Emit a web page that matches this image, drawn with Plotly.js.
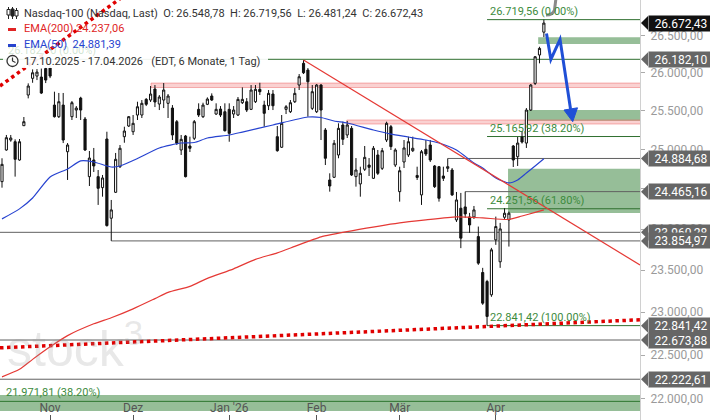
<!DOCTYPE html>
<html><head><meta charset="utf-8">
<script src="https://cdn.plot.ly/plotly-3.0.1.min.js"></script>
<style>html,body{margin:0;padding:0;background:#fff}#chart{width:710px;height:420px}</style>
</head><body><div id="chart"></div>
<script>
// ---- trading days (category axis) ----
const dates = [
"2025-10-17","2025-10-20","2025-10-21","2025-10-22","2025-10-23","2025-10-24","2025-10-27","2025-10-28","2025-10-29","2025-10-30","2025-10-31",
"2025-11-03","2025-11-04","2025-11-05","2025-11-06","2025-11-07","2025-11-10","2025-11-11","2025-11-12","2025-11-13","2025-11-14",
"2025-11-17","2025-11-18","2025-11-19","2025-11-20","2025-11-21","2025-11-24","2025-11-25","2025-11-26","2025-11-28",
"2025-12-01","2025-12-02","2025-12-03","2025-12-04","2025-12-05","2025-12-08","2025-12-09","2025-12-10","2025-12-11","2025-12-12",
"2025-12-15","2025-12-16","2025-12-17","2025-12-18","2025-12-19","2025-12-22","2025-12-23","2025-12-24","2025-12-26","2025-12-29","2025-12-30","2025-12-31",
"2026-01-02","2026-01-05","2026-01-06","2026-01-07","2026-01-08","2026-01-09","2026-01-12","2026-01-13","2026-01-14","2026-01-15","2026-01-16",
"2026-01-20","2026-01-21","2026-01-22","2026-01-23","2026-01-26","2026-01-27","2026-01-28","2026-01-29","2026-01-30",
"2026-02-02","2026-02-03","2026-02-04","2026-02-05","2026-02-06","2026-02-09","2026-02-10","2026-02-11","2026-02-12","2026-02-13",
"2026-02-17","2026-02-18","2026-02-19","2026-02-20","2026-02-23","2026-02-24","2026-02-25","2026-02-26","2026-02-27",
"2026-03-02","2026-03-03","2026-03-04","2026-03-05","2026-03-06","2026-03-09","2026-03-10","2026-03-11","2026-03-12","2026-03-13",
"2026-03-16","2026-03-17","2026-03-18","2026-03-19","2026-03-20","2026-03-23","2026-03-24","2026-03-25","2026-03-26","2026-03-27",
"2026-03-30","2026-03-31","2026-04-01","2026-04-02","2026-04-06","2026-04-07","2026-04-08","2026-04-09","2026-04-10",
"2026-04-13","2026-04-14","2026-04-15","2026-04-16","2026-04-17"];

const open = [24591,24993,25121,25099,24865,25306,25707,25928,25958,25945,
26058,26065,25575,25423,25575,24971,25423,25510,25667,25393,
24654,24865,24654,24515,25134,24134,24457,24780,25164,25302,
25228,25445,25445,25650,25641,25786,25589,25641,25598,25536,
25358,24993,25173,25044,25143,25519,25423,25585,25694,25458,
25523,25488,25519,25458,25445,25606,25619,25519,25619,25782,
25575,25566,25720,25164,25028,25519,25488,25619,25839,26128,
26038,25532,25488,25839,25250,24612,24646,24929,25315,25186,
25272,24654,24562,24747,24801,24633,24929,24759,25121,25293,
24801,24465,24840,24929,24984,24669,24424,25002,25057,24789,
24780,24662,24759,24738,24113,24258,24274,24150,24150,23908,
23472,23364,23205,23868,23601,24146,24113,25044,24907,25160,
25082,25510,25861,26240,26548.78];
const high = [24887,25186,25186,25130,25134,25419,25861,26047,26051,26058,
26085,26091,25751,25734,25734,25082,25628,25562,25684,25419,
24980,25019,24738,24675,25228,24361,24955,25057,25293,25432,
25445,25619,25641,25667,25826,25839,25707,25865,25720,25575,
25380,25186,25186,25164,25380,25598,25606,25676,25729,25598,
25562,25598,25598,25562,25681,25808,25667,25839,25839,25869,
25632,25773,25773,25302,25445,25575,25641,25799,25985,26172,
26065,25839,25852,25852,25276,24696,25121,25337,25358,25367,
25302,24890,24780,25044,24890,25044,24993,25019,25358,25315,
25015,24780,25121,25164,25164,24780,24993,25121,25121,24801,
24789,24780,24884.68,24763,24461,24449,24465.16,24200,24286,24031,
23528,23384,23770,24154,24076,24258,24216,25057,25160,25237,
25536,25852,26226,26351,26719.56];
const low = [24515,24984,25099,24654,24856,25302,25663,25869,25905,25720,
25865,25931,25412,25406,25082,24612,25380,25406,25380,24980,
24536,24713,24299,24402,24031,23854.97,24448,24763,25086,25289,
25186,25380,25406,25562,25615,25549,25510,25536,25406,25121,
25057,24929,24644,24967,25121,25419,25406,25575,25628,25445,
25419,25231,25099,25406,25432,25589,25484,25510,25602,25707,
25293,25510,25510,24971,25019,25458,25471,25602,25773,25985,
25423,25510,25471,25121,24801,24465,24637,24887,25057,25147,
24662,24528,24402,24726,24662,24625,24675,24738,25095,24993,
24776,24340,24763,24903,24967,24612,24299,24916,24840,24511,
24340,24599,24713,24411,24088,23767,24138,23953,24125,23564,
23086,22841.42,23181,23807,23528,24125,23786,24776,24789,25076,
25019,25497,25839,26128,26481.24];
const close = [24810,25151,25147,24874,25099,25358,25826,26002,26011,25733,
25905,25958,25423,25619,25121,25057,25606,25536,25510,24993,
24890,24789,24507,24637,24043,24237,24874,25015,25237,25423,
25337,25553,25598,25585,25720,25615,25681,25773,25694,25186,
25079,25130,24654,25015,25358,25445,25575,25654,25641,25519,
25445,25241,25207,25510,25650,25650,25510,25773,25782,25751,
25467,25729,25566,24984,25337,25553,25606,25729,25949,26002,
25882,25751,25839,25510,24887,24536,25079,25272,25130,25315,
24675,24738,24696,24899,24772,25015,24696,24984,25337,25036,
24993,24729,25019,25099,25015,24644,24971,24942,24865,24528,
24382,24633,24780,24424,24361,23889,24187,24051,24237,23585,
23106,22949,23746,24031,24002,24196,24196,24865,25082,25095,
25510,25839,26216,26329,26672.43];

// ---- moving averages read at sample days ----
const ema200Dates = ["2025-10-17","2025-10-23","2025-10-28","2025-11-03","2025-11-07","2025-11-17","2025-11-21","2025-12-01","2025-12-08","2025-12-11","2025-12-18","2025-12-24","2026-01-05","2026-01-12","2026-01-20","2026-01-26","2026-01-30","2026-02-03","2026-02-12","2026-03-02","2026-03-10","2026-03-19","2026-03-27","2026-04-07","2026-04-10","2026-04-15","2026-04-17"];
const ema200 = [22250,22336,22450,22595,22725,22863,22934,23039,23160,23234,23306,23402,23516,23631,23709,23788,23868,23905,23978,24076,24113,24150,24138,24119,24162,24206,24237.06];
const ema50Dates = ["2025-10-17","2025-10-23","2025-10-28","2025-11-03","2025-11-07","2025-11-12","2025-11-17","2025-11-21","2025-11-25","2025-12-02","2025-12-09","2025-12-16","2025-12-19","2025-12-24","2026-01-02","2026-01-07","2026-01-16","2026-01-29","2026-02-03","2026-02-06","2026-02-11","2026-02-20","2026-02-26","2026-03-04","2026-03-10","2026-03-13","2026-03-19","2026-03-25","2026-03-27","2026-04-01","2026-04-07","2026-04-09","2026-04-13","2026-04-15","2026-04-17"];
const ema50 = [24126,24250,24386,24650,24751,24853,24840,24776,24789,24884,25019,25083,25089,25147,25186,25224,25315,25419,25413,25367,25341,25250,25198,25160,25121,25083,24993,24827,24763,24637,24575,24612,24700,24789,24881.39];

// ---- axis ticks ----
const xTickDates = ["2025-11-03","2025-12-01","2026-01-02","2026-02-02","2026-03-02","2026-04-01"];
const xTickLabels = ["Nov","Dez","Jan '26","Feb","Mär","Apr"];
const yTicks = [22000,22500,23000,23500,24000,24500,25000,25500,26000,26500,27000];

// ---- drawings (index position on the day axis, price) ----
const fibLevels = [26719.56, 25165.92, 24251.56, 22841.42];
const fibLabels = ["26.719,56 (0.00%)","25.165,92 (38.20%)","24.251,56 (61.80%)","22.841,42 (100.00%)"];
const fibStart = 111;
const fullGreen = [26182.10, 21971.81];
const grayPartial = [[24884.68,102],[24465.16,106],[23854.97,25]];
const grayFull = [23960.28, 22673.88, 22222.61];
const pinkBands = [[34.1,25806,25865],[78.9,25328,25380]];
const greenBands = [[122.7,26388,26478],[119.7,25371,25510],[115.8,24198,24754],[-1,21864,22044]];
const dotLow = [[-0.46,22583],[146,22910]];
const dotHigh = [[-0.46,25826],[29.7,27128]];
const downTrend = [[69,26172],[146,23563]];
const arrowPts = [[124.6,26532],[125.6,26181],[127.7,26451],[130.1,25524]];
const arrowHead = [[130.6,25358],[131.7,25539],[128.6,25510]];
const tagVals = [26672.43, 26182.10, 24884.68, 24465.16, 23960.28, 23854.97, 22841.42, 22673.88, 22222.61];

function fmt(v){const s=v.toFixed(2).split('.');return s[0].replace(/\B(?=(\d{3})+(?!\d))/g,'.')+','+s[1];}
const L10 = Math.log10;
const FONT = 'Roboto, Arial, sans-serif';
const XMAX = 146;
const PX = x=>x/640, PY = y=>1-y/420;

const shapes = [];
const annotations = [];
// bands
greenBands.forEach(b=>shapes.push({type:'rect',xref:'x',yref:'y',x0:b[0],x1:XMAX+2,y0:b[1],y1:b[2],fillcolor:'rgba(46,125,50,0.5)',line:{width:0},layer:'below'}));
pinkBands.forEach(b=>shapes.push({type:'rect',xref:'x',yref:'y',x0:b[0],x1:XMAX+2,y0:b[1],y1:b[2],fillcolor:'rgba(235,70,70,0.25)',line:{width:1,color:'rgba(235,90,90,0.45)'},layer:'below'}));
// lines
fibLevels.forEach(v=>shapes.push({type:'line',xref:'x',yref:'y',x0:fibStart,x1:XMAX+2,y0:v,y1:v,line:{color:'#2f6f2f',width:1},layer:'below'}));
fullGreen.forEach(v=>shapes.push({type:'line',xref:'paper',yref:'y',x0:0,x1:1,y0:v,y1:v,line:{color:'#2f6f2f',width:1},layer:'below'}));
grayPartial.forEach(g=>shapes.push({type:'line',xref:'x',yref:'y',x0:g[1],x1:XMAX+2,y0:g[0],y1:g[0],line:{color:'#606060',width:1},layer:'below'}));
grayFull.forEach(v=>shapes.push({type:'line',xref:'paper',yref:'y',x0:0,x1:1,y0:v,y1:v,line:{color:'#606060',width:1},layer:'below'}));
// trend lines
[dotLow,dotHigh].forEach(d=>shapes.push({type:'line',xref:'x',yref:'y',x0:d[0][0],y0:d[0][1],x1:d[1][0],y1:d[1][1],line:{color:'#e00000',width:3.5,dash:'dot'},layer:'below'}));
shapes.push({type:'line',xref:'x',yref:'y',x0:downTrend[0][0],y0:downTrend[0][1],x1:downTrend[1][0],y1:downTrend[1][1],line:{color:'#e53935',width:1.2},layer:'above'});
// blue arrow
shapes.push({type:'path',xref:'x',yref:'y',path:'M '+arrowPts.map(p=>p[0]+','+p[1]).join(' L '),line:{color:'#1f4fd6',width:3},layer:'above'});
shapes.push({type:'path',xref:'x',yref:'y',path:'M '+arrowHead.map(p=>p[0]+','+p[1]).join(' L ')+' Z',fillcolor:'#1f4fd6',line:{color:'#1f4fd6',width:1},layer:'above'});
// gray hook at top
shapes.push({type:'path',xref:'paper',yref:'paper',path:`M ${PX(556)},${PY(-2)} L ${PX(554.5)},${PY(10)} Q ${PX(553)},${PY(15)} ${PX(546)},${PY(15)}`,line:{color:'#8a8a8a',width:3},layer:'above'});
// price tag tips
tagVals.forEach((v,k)=>shapes.push({type:'path',xref:'paper',yref:'y',xsizemode:'pixel',ysizemode:'pixel',xanchor:1,yanchor:v,path:'M1,0 L8,7 L8,-7 Z',fillcolor:k===0?'#111':'#666',line:{width:0},layer:'above'}));
// legend white backing + icons
shapes.push({type:'rect',xref:'paper',yref:'paper',x0:PX(3),x1:PX(268),y0:PY(54),y1:PY(68),fillcolor:'rgba(255,255,255,0.92)',line:{width:0},layer:'above'});
shapes.push({type:'rect',xref:'paper',yref:'paper',x0:PX(8),x1:PX(16),y0:PY(28),y1:PY(31),fillcolor:'#e02424',line:{width:0},layer:'above'});
shapes.push({type:'rect',xref:'paper',yref:'paper',x0:PX(8),x1:PX(16),y0:PY(44),y1:PY(47),fillcolor:'#2743d0',line:{width:0},layer:'above'});
shapes.push({type:'circle',xref:'paper',yref:'paper',x0:PX(7),x1:PX(18),y0:PY(55.5),y1:PY(66.5),line:{color:'#333',width:1.3},layer:'above'});
shapes.push({type:'path',xref:'paper',yref:'paper',path:`M ${PX(12.5)},${PY(57.5)} L ${PX(12.5)},${PY(61)} L ${PX(15.5)},${PY(62.5)}`,line:{color:'#333',width:1.2},layer:'above'});
[[8.5,7,19,9.5,15,'#fff'],[12.5,7,19,9,16,'#222'],[16.5,8,19,10.5,16,'#fff']].forEach(c=>{
  shapes.push({type:'line',xref:'paper',yref:'paper',x0:PX(c[0]),x1:PX(c[0]),y0:PY(c[1]),y1:PY(c[2]),line:{color:'#222',width:1},layer:'above'});
  shapes.push({type:'rect',xref:'paper',yref:'paper',x0:PX(c[0]-1.5),x1:PX(c[0]+1.5),y0:PY(c[3]),y1:PY(c[4]),fillcolor:c[5],line:{color:'#222',width:1},layer:'above'});
});

// annotations
const G = '#3d8b3d';
fibLevels.forEach((v,k)=>annotations.push({xref:'x',yref:'y',x:fibStart,y:L10(v),xanchor:'left',yanchor:'bottom',xshift:1,yshift:0,showarrow:false,text:fibLabels[k],font:{family:FONT,size:11,color:G}}));
annotations.push({xref:'paper',yref:'y',x:0,y:L10(21971.81),xanchor:'left',yanchor:'bottom',xshift:4,showarrow:false,text:'21.971,81 (38.20%)',font:{family:FONT,size:11,color:G}});
annotations.push({xref:'paper',yref:'y',x:0,y:L10(26182.10),xanchor:'left',yanchor:'bottom',xshift:6,showarrow:false,text:'26.182,10 (0.00%)',font:{family:FONT,size:11,color:'rgba(61,139,61,0.25)'}});
annotations.push({xref:'paper',yref:'paper',x:PX(5),y:PY(345),xanchor:'left',yanchor:'middle',showarrow:false,text:'stock<sup>3</sup>',font:{family:'Arial, sans-serif',size:50,color:'rgba(150,150,150,0.22)'}});
annotations.push({xref:'paper',yref:'paper',x:PX(22),y:PY(13),xanchor:'left',yanchor:'middle',showarrow:false,text:'Nasdaq-100 (Nasdaq, Last)\u00a0\u00a0O: 26.548,78\u00a0\u00a0H: 26.719,56\u00a0\u00a0L: 26.481,24\u00a0\u00a0C: 26.672,43',font:{family:FONT,size:11,color:'#333'}});
annotations.push({xref:'paper',yref:'paper',x:PX(22),y:PY(29),xanchor:'left',yanchor:'middle',showarrow:false,text:'EMA(200)\u00a024.237,06',font:{family:FONT,size:11,color:'#e02424'}});
annotations.push({xref:'paper',yref:'paper',x:PX(22),y:PY(45),xanchor:'left',yanchor:'middle',showarrow:false,text:'EMA(50)\u00a0\u00a024.881,39',font:{family:FONT,size:11,color:'#2743d0'}});
annotations.push({xref:'paper',yref:'paper',x:PX(22),y:PY(61),xanchor:'left',yanchor:'middle',showarrow:false,text:'17.10.2025 - 17.04.2026\u00a0\u00a0\u00a0(EDT, 6 Monate, 1 Tag)',font:{family:FONT,size:11,color:'#333'}});
tagVals.forEach((v,k)=>annotations.push({xref:'paper',yref:'y',x:1,y:L10(v),xanchor:'left',yanchor:'middle',xshift:8,showarrow:false,text:fmt(v),width:62,height:13,align:'center',bgcolor:k===0?'#111':'#666',borderpad:1,font:{family:FONT,size:12,color:'#fff'}}));

const traces = [
 {type:'scatter',mode:'lines',x:ema200Dates,y:ema200,line:{color:'#e53935',width:1.2,shape:'spline',smoothing:0.6},hoverinfo:'skip'},
 {type:'scatter',mode:'lines',x:ema50Dates,y:ema50,line:{color:'#2743d0',width:1.2,shape:'spline',smoothing:0.6},hoverinfo:'skip'},
 {type:'candlestick',x:dates,open:open,high:high,low:low,close:close,whiskerwidth:0,
  increasing:{line:{color:'#111',width:1},fillcolor:'#fff'},
  decreasing:{line:{color:'#111',width:1},fillcolor:'#111'},hoverinfo:'skip'}
];

const layout = {
 width:710,height:420,margin:{l:0,r:70,t:0,b:0},
 paper_bgcolor:'#fff',plot_bgcolor:'#fff',showlegend:false,
 xaxis:{type:'category',categoryorder:'array',categoryarray:dates,range:[-0.46,XMAX],showgrid:false,zeroline:false,showline:false,
   tickmode:'array',tickvals:xTickDates,ticktext:xTickLabels,ticks:'inside',ticklen:5,tickcolor:'#555',
   ticklabelposition:'inside',tickfont:{family:FONT,size:12,color:'#555'},rangeslider:{visible:false},fixedrange:true},
 yaxis:{type:'log',side:'right',range:[L10(21763),L10(26990)],tickmode:'array',tickvals:yTicks,ticktext:yTicks.map(fmt),
   showgrid:false,zeroline:false,showline:true,linecolor:'#d0d0d0',linewidth:1,ticks:'outside',ticklen:4,tickcolor:'#aaa',
   ticklabelstandoff:3,tickfont:{family:FONT,size:12,color:'#9a9a9a'},fixedrange:true},
 shapes:shapes,annotations:annotations
};
Plotly.newPlot('chart',traces,layout,{displayModeBar:false,staticPlot:true});
</script></body></html>
